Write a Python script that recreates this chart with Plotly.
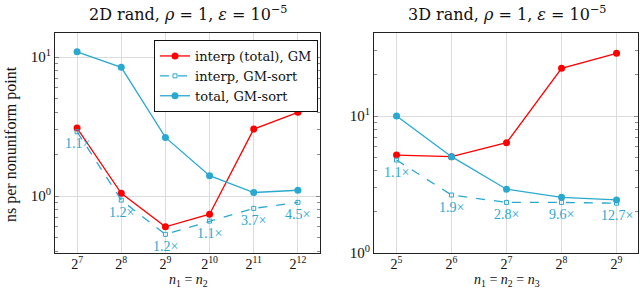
import math
import plotly.graph_objects as go

# ---- data ----
x2d = [7, 8, 9, 10, 11, 12]
x2d_labels = ["2<sup>7</sup>", "2<sup>8</sup>", "2<sup>9</sup>", "2<sup>10</sup>", "2<sup>11</sup>", "2<sup>12</sup>"]
interp_total_gm_2d = [3.08, 1.045, 0.60, 0.74, 3.03, 4.0]
interp_gmsort_2d = [2.9, 0.935, 0.53, 0.66, 0.815, 0.90]
total_gmsort_2d = [10.9, 8.43, 2.64, 1.40, 1.06, 1.10]
speedup_2d = ["1.1×", "1.2×", "1.2×", "1.1×", "3.7×", "4.5×"]

x3d = [5, 6, 7, 8, 9]
x3d_labels = ["2<sup>5</sup>", "2<sup>6</sup>", "2<sup>7</sup>", "2<sup>8</sup>", "2<sup>9</sup>"]
interp_total_gm_3d = [5.19, 5.05, 6.38, 22.3, 28.7]
interp_gmsort_3d = [4.77, 2.65, 2.34, 2.34, 2.31]
total_gmsort_3d = [10.0, 5.05, 2.92, 2.55, 2.44]
speedup_3d = ["1.1×", "1.9×", "2.8×", "9.6×", "12.7×"]

RED = "#ff0000"
CYAN = "#29a9d0"
FONT = "Liberation Serif"
WIDE = "DejaVu Serif"
W, H = 640, 289

minor_vals = [0.4, 0.5, 0.6, 0.7, 0.8, 0.9, 2, 3, 4, 5, 6, 7, 8, 9, 20, 30, 40]

fig = go.Figure()

def add_panel(xs, red, dash, cyan, xa, ya, show):
    fig.add_trace(go.Scatter(x=xs, y=red, mode="lines+markers", name="interp (total), GM",
                             line=dict(color=RED, width=1.3), marker=dict(color=RED, size=7),
                             xaxis=xa, yaxis=ya, showlegend=show, legendrank=1))
    fig.add_trace(go.Scatter(x=xs, y=dash, mode="lines+markers", name="interp, GM-sort",
                             line=dict(color=CYAN, width=1.3, dash="dash"),
                             marker=dict(color=CYAN, size=4, symbol="square-open", line=dict(width=1)),
                             xaxis=xa, yaxis=ya, showlegend=show, legendrank=2))
    fig.add_trace(go.Scatter(x=xs, y=cyan, mode="lines+markers", name="total, GM-sort",
                             line=dict(color=CYAN, width=1.3), marker=dict(color=CYAN, size=7),
                             xaxis=xa, yaxis=ya, showlegend=show, legendrank=3))

add_panel(x2d, interp_total_gm_2d, interp_gmsort_2d, total_gmsort_2d, "x", "y", True)
add_panel(x3d, interp_total_gm_3d, interp_gmsort_3d, total_gmsort_3d, "x2", "y2", False)

ydom = [(H - 253) / H, (H - 33) / H]
axis_common = dict(showline=True, linecolor="#222", linewidth=1, mirror="ticks",
                   gridcolor="#dcdcdc", gridwidth=1, zeroline=False, automargin=False)
yfont = dict(family=FONT, size=15, color="#111")
xfont = dict(family=FONT, size=14, color="#111")
minor = dict(tickmode="array", tickvals=minor_vals, ticks="inside", ticklen=3,
             tickcolor="#888", showgrid=False)

fig.update_layout(
    width=W, height=H, margin=dict(l=0, r=0, t=0, b=0, autoexpand=False),
    paper_bgcolor="white", plot_bgcolor="white",
    font=dict(family=FONT, color="#111"),
    xaxis=dict(domain=[55 / W, 320 / W], range=[6.5, 12.5], tickvals=x2d, ticktext=x2d_labels,
               ticks="", ticklabelstandoff=-2, tickfont=xfont, anchor="y", **axis_common),
    yaxis=dict(domain=ydom, type="log", range=[-0.41, 1.173], tickvals=[1, 10],
               ticktext=["10<sup>0</sup>", "10<sup>1</sup>"], ticks="inside", ticklen=4,
               tickcolor="#888", tickfont=yfont, minor=minor, anchor="x", **axis_common),
    xaxis2=dict(domain=[374 / W, 638 / W], range=[4.59, 9.39], tickvals=x3d, ticktext=x3d_labels,
                ticks="", ticklabelstandoff=-2, tickfont=xfont, anchor="y2", **axis_common),
    yaxis2=dict(domain=ydom, type="log", range=[0, 1.606], tickvals=[1, 10],
                ticktext=["10<sup>0</sup>", "10<sup>1</sup>"], ticks="inside", ticklen=4,
                tickcolor="#888", tickfont=yfont, minor=minor, anchor="x2", **axis_common),
    legend=dict(x=318 / W, xanchor="right", y=(H - 40) / H, yanchor="top",
                bordercolor="#111", borderwidth=1, bgcolor="white",
                font=dict(family=WIDE, size=13, color="#111"),
                tracegroupgap=0, itemwidth=30),
)

anns = []
for xv, yv, t in zip(x2d, interp_gmsort_2d, speedup_2d):
    anns.append(dict(x=xv, y=math.log10(yv), xref="x", yref="y", text=t, showarrow=False,
                     yshift=-12, font=dict(family=FONT, size=14, color=CYAN)))
for xv, yv, t in zip(x3d, interp_gmsort_3d, speedup_3d):
    anns.append(dict(x=xv, y=math.log10(yv), xref="x2", yref="y2", text=t, showarrow=False,
                     yshift=-12, font=dict(family=FONT, size=14, color=CYAN)))

def pa(x, y, text, size, angle=0, family=FONT):
    return dict(x=x / W, y=1 - y / H, xref="paper", yref="paper", showarrow=False,
                xanchor="center", yanchor="middle", textangle=angle, text=text,
                font=dict(family=family, size=size, color="#111"))

anns += [
    pa(188, 13, "2D rand, <i>ρ</i> = 1, <i>ε</i> = 10<sup>−5</sup>", 16, family=WIDE),
    pa(507, 13, "3D rand, <i>ρ</i> = 1, <i>ε</i> = 10<sup>−5</sup>", 16, family=WIDE),
    pa(188, 280, "<i>n</i><sub>1</sub> = <i>n</i><sub>2</sub>", 14),
    pa(507, 280, "<i>n</i><sub>1</sub> = <i>n</i><sub>2</sub> = <i>n</i><sub>3</sub>", 14),
    pa(11, 144, "ns per nonuniform point", 16, -90),
]
fig.update_layout(annotations=anns)

fig.write_html("out.html", config={"displayModeBar": False},
               post_script="document.body.style.margin='0';")
